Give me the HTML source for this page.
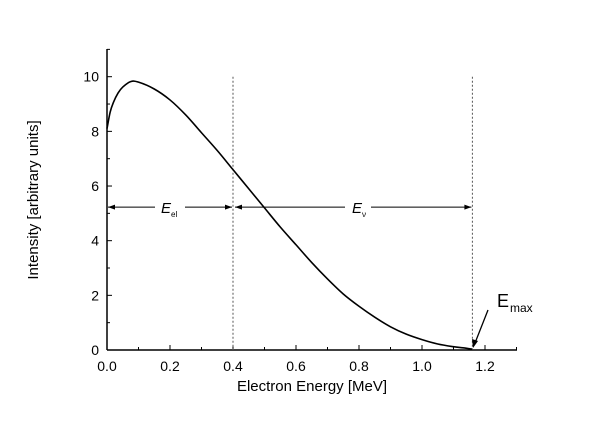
<!DOCTYPE html>
<html><head><meta charset="utf-8"><style>
body{margin:0;background:#fff}
svg text{font-family:"Liberation Sans",Arial,sans-serif;fill:#000}
</style></head><body>
<svg width="600" height="420">
<g id="g"></g>
</svg>
<script>
const xs=[0,0.01,0.02,0.035,0.05,0.075,0.1,0.15,0.2,0.25,0.3,0.35,0.4,0.45,0.5,0.55,0.6,0.65,0.7,0.75,0.8,0.85,0.9,0.95,1.0,1.05,1.1,1.13,1.16];
const ys=[8.1,8.7,9.05,9.4,9.62,9.82,9.8,9.55,9.15,8.6,7.95,7.3,6.6,5.9,5.2,4.5,3.85,3.2,2.6,2.05,1.6,1.2,0.85,0.58,0.38,0.22,0.12,0.08,0.03];
const xTicks=[0,0.2,0.4,0.6,0.8,1.0,1.2];
const xTickLabels=["0.0","0.2","0.4","0.6","0.8","1.0","1.2"];
const yTicks=[0,2,4,6,8,10];
const markers=[0.4,1.16];
const arrowY=5.23;
const X=v=>107+v*315, Y=v=>350-v*27.33;
const NS="http://www.w3.org/2000/svg", g=document.getElementById('g');
function el(t,a,txt){const e=document.createElementNS(NS,t);for(const k in a)e.setAttribute(k,a[k]);if(txt!=null)e.textContent=txt;g.appendChild(e);return e;}
let e;
e=el('line',{x1:107,y1:350,x2:517,y2:350,stroke:'#000','stroke-width':1.5});


e=el('line',{x1:107,y1:350,x2:107,y2:49,stroke:'#000','stroke-width':1.5});


for(let v=0;v<=1.3001;v+=0.1){const big=Math.round(v*10)%2==0;e=el('line',{x1:X(v),y1:350,x2:X(v),y2:big?345:347,stroke:'#000'});}
xTicks.forEach((v,i)=>{e=el('text',{x:X(v),y:371,'text-anchor':'middle','font-size':14},xTickLabels[i]);});
for(let v=0;v<=11;v++){e=el('line',{x1:107,y1:Y(v),x2:v%2==0?112:110,y2:Y(v),stroke:'#000'});}
yTicks.forEach(v=>{e=el('text',{x:99,y:Y(v)+5,'text-anchor':'end','font-size':14},String(v));});
markers.forEach(m=>{e=el('line',{x1:X(m),y1:Y(10),x2:X(m),y2:350,stroke:'#555','stroke-dasharray':'2,2'});});
const P=xs.map((x,i)=>[X(x),Y(ys[i])]);
let d='M'+P[0][0]+','+P[0][1];
for(let i=0;i<P.length-1;i++){const p0=P[Math.max(0,i-1)],p1=P[i],p2=P[i+1],p3=P[Math.min(P.length-1,i+2)];
 d+=` C${p1[0]+(p2[0]-p0[0])/6},${p1[1]+(p2[1]-p0[1])/6} ${p2[0]-(p3[0]-p1[0])/6},${p2[1]-(p3[1]-p1[1])/6} ${p2[0]},${p2[1]}`;}
e=el('path',{d:d,fill:'none',stroke:'#000','stroke-width':1.6});


const ay=Y(arrowY);
function arrow(x1,x2,name){e=el('line',{x1:x1,y1:ay,x2:x2,y2:ay,stroke:'#000'});
 [x1,x2].forEach((p,i)=>{const d=i?-1:1;e=el('polygon',{points:`${p},${ay} ${p+7*d},${ay-2.5} ${p+7*d},${ay+2.5}`,fill:'#000'});});}
arrow(X(0)+1,X(markers[0])-1,'e-el-arrow');
arrow(X(markers[0])+2,X(markers[1])-1,'e-nu-arrow');
e=el('rect',{x:155,y:ay-8,width:30,height:18,fill:'#fff'});
e=el('rect',{x:345,y:ay-8,width:26,height:18,fill:'#fff'});
e=el('text',{x:161,y:ay+6,'font-size':15,'font-style':'italic'},'E');
el('text',{x:171,y:ay+10,'font-size':8},'el');
e=el('text',{x:352,y:ay+6,'font-size':15,'font-style':'italic'},'E');
el('text',{x:362,y:ay+10,'font-size':8},'ν');
e=el('text',{x:497,y:307,'font-size':18},'E');
el('text',{x:510,y:312,'font-size':12},'max');
e=el('line',{x1:488,y1:310,x2:475,y2:343,stroke:'#000','stroke-width':1.3});
el('polygon',{points:'473,348 472,339 478,341',fill:'#000'});
e=el('text',{x:312,y:391,'text-anchor':'middle','font-size':15},'Electron Energy [MeV]');
e=el('text',{x:0,y:0,'text-anchor':'middle','font-size':15,transform:'translate(38,200) rotate(-90)'},'Intensity [arbitrary units]');
</script>
</body></html>
